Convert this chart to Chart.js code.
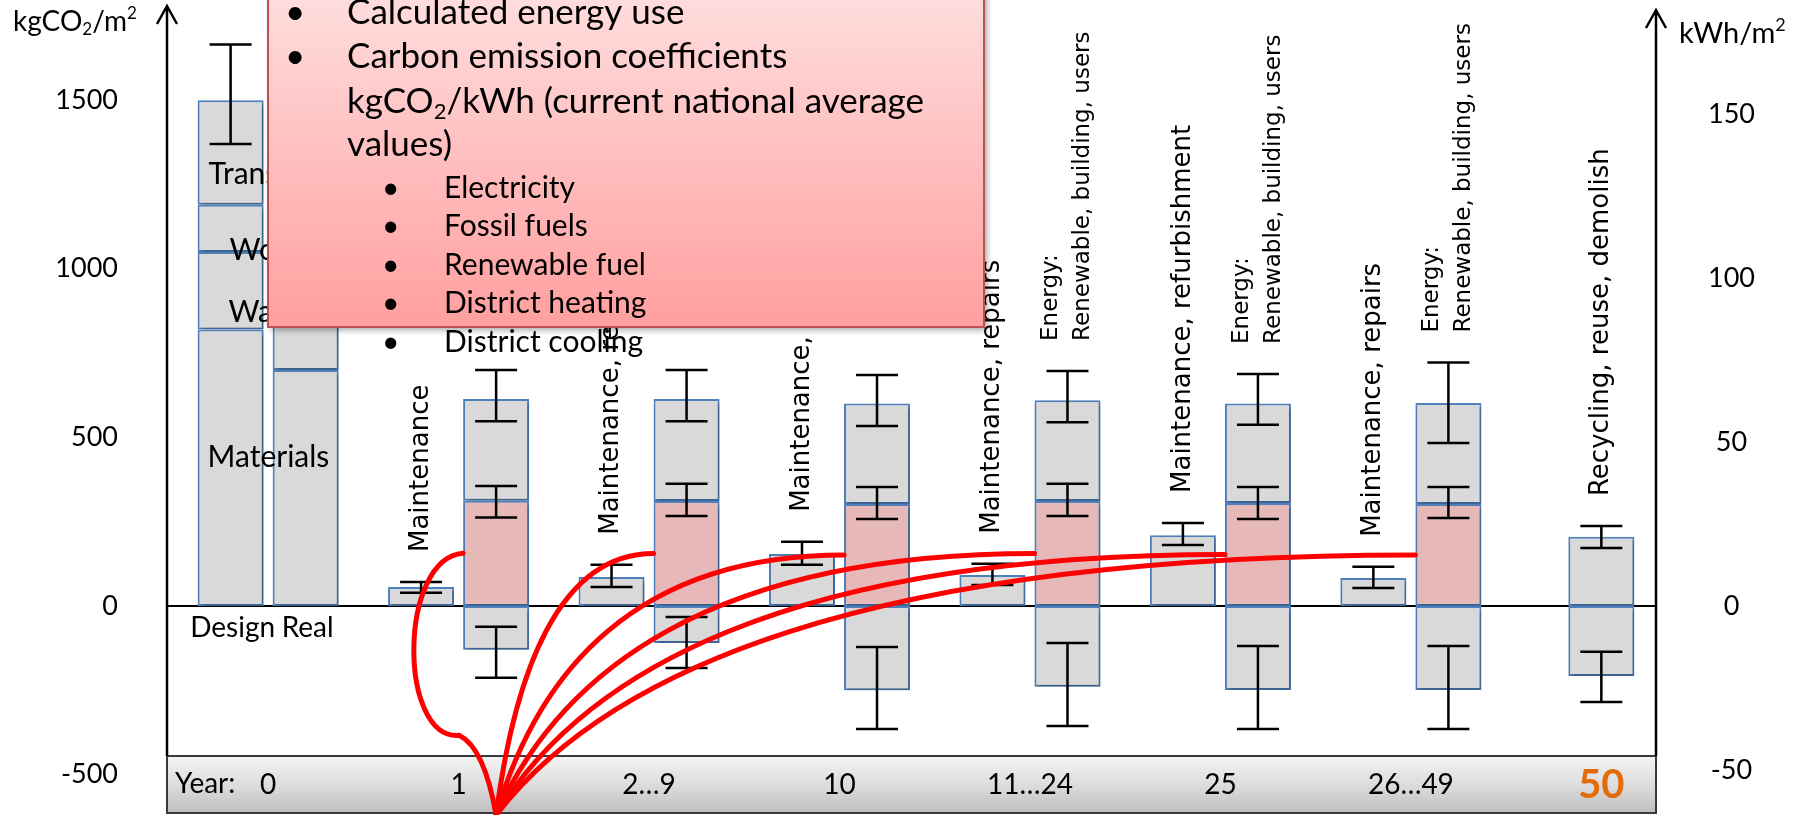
<!DOCTYPE html>
<html lang="en">
<head>
<meta charset="utf-8">
<title>Life cycle carbon</title>
<script src="https://cdn.jsdelivr.net/npm/chart.js@4.4.1/dist/chart.umd.min.js"></script>
<style>
    html, body { margin: 0; padding: 0; background: #ffffff; }
    #holder { position: relative; width: 1803px; height: 815px; }
</style>
</head>
<body>
<div id="holder"><canvas id="life_canvas"></canvas></div>
<script>
// time slots shown in the grey strip at the bottom
var yearLabels = ['0', '1', '2…9', '10', '11…24', '25', '26…49', '50'];

// axis labels
var leftTicks = [-500, 0, 500, 1000, 1500];   // kgCO2/m2
var rightTicks = [-50, 0, 50, 100, 150];      // kWh/m2

// year 0, kgCO2/m2 (null = nothing in that slot)
var designMaterials = [820, null, null, null, null, null, null, null];
var designWaste     = [230, null, null, null, null, null, null, null];
var designWork      = [140, null, null, null, null, null, null, null];
var designTransport = [310, null, null, null, null, null, null, null];
var designRange     = [[1370, 1665], null, null, null, null, null, null, null];

var realMaterials = [700, null, null, null, null, null, null, null];
var realWaste     = [200, null, null, null, null, null, null, null];
var realWork      = [130, null, null, null, null, null, null, null];
var realTransport = [290, null, null, null, null, null, null, null];

// use phase
var maintenance      = [null, 56, 86, 154, 92, 210, 83, null];
var maintenanceRange = [null, [39, 71], [56, 122], [122, 190], [62, 125], [181, 246], [53, 116], null];
var maintenanceNotes = [null, 'Maintenance', 'Maintenance, repairs', 'Maintenance, replacement',
                        'Maintenance, repairs', 'Maintenance, refurbishment', 'Maintenance, repairs', null];

var energyUsed        = [null, 312, 311, 302, 311, 305, 302, null];
var energyUsedRange   = [null, [262, 356], [267, 362], [258, 353], [267, 362], [258, 353], [261, 353], null];
var energyOther       = [null, 302, 303, 298, 299, 295, 300, null];
var energyTopRange    = [null, [548, 700], [548, 700], [534, 685], [545, 697], [537, 688], [483, 722], null];
var energyExport      = [null, -130, -110, -250, -240, -249, -249, null];
var energyExportRange = [null, [-213, -62], [-184, -33], [-365, -122], [-356, -110], [-365, -119], [-365, -119], null];
var energyNote        = ['Energy:', 'Renewable, building, users'];
var energyNotes       = [null, null, null, null, energyNote, energyNote, energyNote, null];

// end of life
var endOfLife         = [null, null, null, null, null, null, null, 205];
var endOfLifeRange    = [null, null, null, null, null, null, null, [172, 237]];
var endOfLifeCredit   = [null, null, null, null, null, null, null, -208];
var endOfLifeCreditRange = [null, null, null, null, null, null, null, [-285, -136]];
var endOfLifeNotes    = [null, null, null, null, null, null, null, 'Recycling, reuse, demolish'];

var cinza = '#d9d9d9';
var azul = '#4f81bd';
var rosa = '#e6b9b8';

function pontos(valores) {
    return valores.map(function (v, i) { return { x: i, y: v }; });
}

function barra(label, valores, stack, cor, extra) {
    var ds = {
        label: label,
        data: pontos(valores),
        stack: stack,
        backgroundColor: cor,
        borderColor: azul,
        borderWidth: 2,
        borderSkipped: false
    };
    for (var k in extra) ds[k] = extra[k];
    return ds;
}

var datasets = [
    barra('Materials', designMaterials, 'left', cinza, { tag: 'Materials', tagDx: 10, tagDy: -10, baseTag: 'Design' }),
    barra('Waste', designWaste, 'left', cinza, { tag: 'Waste', tagDx: 31, tagDy: 22 }),
    barra('Work', designWork, 'left', cinza, { tag: 'Work', tagDx: 32, tagDy: 22 }),
    barra('Transport', designTransport, 'left', cinza, { tag: 'Transport', tagDx: 11, tagDy: 22, ranges: designRange }),
    barra('Maintenance', maintenance, 'left', cinza, { ranges: maintenanceRange, notes: maintenanceNotes }),

    barra('Real materials', realMaterials, 'right', cinza, { baseTag: 'Real' }),
    barra('Real waste', realWaste, 'right', cinza, {}),
    barra('Real work', realWork, 'right', cinza, {}),
    barra('Real transport', realTransport, 'right', cinza, {}),
    barra('Energy used', energyUsed, 'right', rosa, { ranges: energyUsedRange, connector: true }),
    barra('Energy other', energyOther, 'right', cinza, { ranges: energyTopRange, notes: energyNotes, noteSize: 23 }),
    barra('Energy export', energyExport, 'right', cinza, { ranges: energyExportRange }),

    barra('End of life', endOfLife, 'solo', cinza, { grouped: false, ranges: endOfLifeRange, notes: endOfLifeNotes }),
    barra('End of life credit', endOfLifeCredit, 'solo', cinza, { grouped: false, ranges: endOfLifeCreditRange })
];

function textoRico(ctx, partes, x, y, tamanho) {
    partes.forEach(function (p) {
        var s = (p.sub || p.sup) ? Math.round(tamanho * 0.62) : tamanho;
        ctx.font = s + 'px Lato';
        var dy = p.sub ? tamanho * 0.28 : (p.sup ? -tamanho * 0.3 : 0);
        ctx.fillText(p.t, x, y + dy);
        x += ctx.measureText(p.t).width;
    });
}

var desenho = {
    id: 'desenho',
    beforeDatasetsDraw: function (chart) {
        var ctx = chart.ctx;
        var area = chart.chartArea;
        var xs = chart.scales.x;
        var ys = chart.scales.y;
        var faixaTopo = area.bottom - 59;

        // year strip
        ctx.save();
        var g = ctx.createLinearGradient(0, faixaTopo, 0, area.bottom);
        g.addColorStop(0, '#f4f4f4');
        g.addColorStop(0.5, '#dcdcdc');
        g.addColorStop(1, '#bcbcbc');
        ctx.fillStyle = g;
        ctx.fillRect(area.left, faixaTopo, area.right - area.left, 57);
        ctx.strokeStyle = '#3a3a3a';
        ctx.lineWidth = 2;
        ctx.strokeRect(area.left, faixaTopo, area.right - area.left, 57);

        ctx.fillStyle = '#000';
        ctx.textBaseline = 'middle';
        ctx.textAlign = 'left';
        ctx.font = '28px Lato';
        ctx.fillText('Year:', area.left + 8, faixaTopo + 28);
        ctx.textAlign = 'center';
        for (var i = 0; i < yearLabels.length; i++) {
            var px = xs.getPixelForValue(i);
            if (i === yearLabels.length - 1) {
                ctx.font = 'bold 40px Lato';
                ctx.fillStyle = '#e36c09';
            } else {
                ctx.font = '28px Lato';
                ctx.fillStyle = '#000';
            }
            ctx.fillText(yearLabels[i], px, faixaTopo + 29);
        }

        // axes with open arrow heads
        ctx.strokeStyle = '#000';
        ctx.lineWidth = 2.5;
        ctx.beginPath();
        ctx.moveTo(area.left, faixaTopo);
        ctx.lineTo(area.left, 6);
        ctx.moveTo(area.left - 10, 24);
        ctx.lineTo(area.left, 6);
        ctx.lineTo(area.left + 10, 24);
        ctx.moveTo(area.right, faixaTopo);
        ctx.lineTo(area.right, 10);
        ctx.moveTo(area.right - 10, 28);
        ctx.lineTo(area.right, 10);
        ctx.lineTo(area.right + 10, 28);
        ctx.stroke();

        // zero line
        var zero = ys.getPixelForValue(0);
        ctx.lineWidth = 2;
        ctx.beginPath();
        ctx.moveTo(area.left, zero);
        ctx.lineTo(area.right, zero);
        ctx.stroke();

        // axis titles
        ctx.fillStyle = '#000';
        ctx.textAlign = 'left';
        textoRico(ctx, [{ t: 'kgCO' }, { t: '2', sub: true }, { t: '/m' }, { t: '2', sup: true }], 13, 22, 28);
        textoRico(ctx, [{ t: 'kWh/m' }, { t: '2', sup: true }], 1679, 34, 29);
        ctx.restore();

        // soft shadow under the bars
        ctx.save();
        ctx.shadowColor = 'rgba(0,0,0,0.28)';
        ctx.shadowBlur = 4;
        ctx.shadowOffsetX = 2;
        ctx.shadowOffsetY = 3;
    },
    afterDatasetsDraw: function (chart) {
        var ctx = chart.ctx;
        ctx.restore();
        var area = chart.chartArea;
        var ys = chart.scales.y;
        var zero = ys.getPixelForValue(0);

        ctx.save();
        ctx.strokeStyle = '#000';
        ctx.fillStyle = '#000';
        ctx.lineWidth = 2.5;

        chart.data.datasets.forEach(function (ds, di) {
            var meta = chart.getDatasetMeta(di);

            // error bars
            if (ds.ranges) {
                ds.ranges.forEach(function (r, i) {
                    if (!r) return;
                    var bx = meta.data[i].x;
                    var top = ys.getPixelForValue(r[1]);
                    var bot = ys.getPixelForValue(r[0]);
                    ctx.beginPath();
                    ctx.moveTo(bx, top);
                    ctx.lineTo(bx, bot);
                    ctx.moveTo(bx - 21, top);
                    ctx.lineTo(bx + 21, top);
                    ctx.moveTo(bx - 21, bot);
                    ctx.lineTo(bx + 21, bot);
                    ctx.stroke();
                });
            }

            // rotated notes above the error bars
            if (ds.notes) {
                var tam = ds.noteSize || 26;
                ds.notes.forEach(function (n, i) {
                    if (!n) return;
                    var linhas = Array.isArray(n) ? n : [n];
                    var bx = meta.data[i].x;
                    var topo = ys.getPixelForValue(ds.ranges[i][1]) - 30;
                    ctx.save();
                    ctx.translate(bx, topo);
                    ctx.rotate(-Math.PI / 2);
                    ctx.font = tam + 'px "DejaVu Sans"';
                    ctx.textAlign = 'left';
                    ctx.textBaseline = 'middle';
                    linhas.forEach(function (t, k) {
                        ctx.fillText(t, 0, (k - (linhas.length - 1) / 2) * 32);
                    });
                    ctx.restore();
                });
            }

            // names inside the design segments
            if (ds.tag) {
                var el = meta.data[0];
                ctx.font = '30px Lato';
                ctx.textAlign = 'left';
                ctx.textBaseline = 'middle';
                ctx.fillText(ds.tag, el.x - el.width / 2 + ds.tagDx, (el.y + el.base) / 2 + ds.tagDy);
            }
            if (ds.baseTag) {
                var eb = meta.data[0];
                ctx.font = '28px Lato';
                ctx.textAlign = 'center';
                ctx.textBaseline = 'middle';
                ctx.fillText(ds.baseTag, eb.x + 2, zero + 22);
            }
        });

        // red connectors from the energy bars down to year 1
        var idx = chart.data.datasets.findIndex(function (d) { return d.connector; });
        var used = chart.getDatasetMeta(idx).data;
        var ox = used[1].x;
        var oy = area.bottom;
        ctx.strokeStyle = '#ff0000';
        ctx.lineWidth = 5;
        ctx.lineCap = 'round';
        for (var i = 1; i < used.length; i++) {
            if (energyUsed[i] === null) continue;
            var b = used[i];
            var ex = b.x - b.width / 2;
            var ey = (b.y + b.base) / 2;
            ctx.beginPath();
            if (i === 1) {
                var kx = ex - 4, ky = ey + 182;
                ctx.moveTo(ex, ey);
                ctx.bezierCurveTo(ex - 65, ey + 5, ex - 65, ky + 5, kx, ky);
                ctx.quadraticCurveTo(kx + 25, ky + 12, ox, oy);
            } else {
                var dx = ex - ox, dy = oy - ey;
                ctx.moveTo(ox, oy);
                ctx.bezierCurveTo(ox + 0.12 * dx, oy - 0.55 * dy, ex - 0.6 * dx, ey, ex, ey);
            }
            ctx.stroke();
        }
        ctx.restore();

        // call-out box
        ctx.save();
        ctx.shadowColor = 'rgba(0,0,0,0.35)';
        ctx.shadowBlur = 6;
        ctx.shadowOffsetX = 3;
        ctx.shadowOffsetY = 3;
        var gb = ctx.createLinearGradient(0, 0, 0, 327);
        gb.addColorStop(0, '#ffdcdc');
        gb.addColorStop(1, '#ff9f9f');
        ctx.fillStyle = gb;
        ctx.fillRect(268, -10, 716, 337);
        ctx.restore();
        ctx.save();
        ctx.strokeStyle = '#c0504d';
        ctx.lineWidth = 2;
        ctx.strokeRect(268, -10, 716, 337);

        ctx.fillStyle = '#000';
        ctx.textBaseline = 'middle';
        ctx.textAlign = 'left';
        ctx.font = '35px Lato';
        ctx.fillText('•', 285, 13);
        ctx.fillText('Calculated energy use', 347, 13);
        ctx.fillText('•', 285, 57);
        ctx.fillText('Carbon emission coefficients', 347, 57);
        textoRico(ctx, [{ t: 'kgCO' }, { t: '2', sub: true }, { t: '/kWh (current national average' }], 347, 102, 35);
        ctx.font = '35px Lato';
        ctx.fillText('values)', 347, 145);

        var sub = ['Electricity', 'Fossil fuels', 'Renewable fuel', 'District heating', 'District cooling'];
        ctx.font = '30px Lato';
        sub.forEach(function (t, k) {
            var yy = 188 + k * 38.5;
            ctx.fillText('•', 382, yy);
            ctx.fillText(t, 444, yy);
        });
        ctx.restore();
    }
};

Chart.defaults.font.family = 'Lato';
Chart.defaults.color = '#000';

var eixoX = {
    type: 'linear',
    display: false,
    offset: false,
    bounds: 'data',
    min: -0.531,
    max: 7.287,
    afterBuildTicks: function (scale) {
        scale.ticks = yearLabels.map(function (t, i) { return { value: i }; });
    }
};

var config = {
    type: 'bar',
    data: { datasets: datasets },
    options: {
        responsive: true,
        maintainAspectRatio: false,
        animation: false,
        layout: { padding: 0 },
        categoryPercentage: 0.788,
        barPercentage: 0.88,
        maxBarThickness: 66,
        plugins: {
            legend: { display: false },
            tooltip: { enabled: false }
        },
        scales: {
            x: eixoX,
            y: {
                position: 'left',
                stacked: true,
                min: -620,
                max: 1797,
                grid: { display: false },
                border: { display: false },
                ticks: {
                    padding: 41,
                    font: { size: 27, family: 'Lato' },
                    callback: function (v) { return String(v); }
                },
                afterBuildTicks: function (scale) {
                    scale.ticks = leftTicks.map(function (v) { return { value: v }; });
                },
                afterFit: function (scale) {
                    scale.width = 167;
                    scale.paddingTop = 0;
                    scale.paddingBottom = 0;
                }
            },
            y2: {
                position: 'right',
                min: -63.7,
                max: 184.8,
                grid: { display: false },
                border: { display: false },
                ticks: {
                    padding: 44,
                    crossAlign: 'center',
                    font: { size: 27, family: 'Lato' },
                    callback: function (v) { return String(v); }
                },
                afterBuildTicks: function (scale) {
                    scale.ticks = rightTicks.map(function (v) { return { value: v }; });
                },
                afterFit: function (scale) {
                    scale.width = 147;
                    scale.paddingTop = 0;
                    scale.paddingBottom = 0;
                }
            }
        }
    },
    plugins: [desenho]
};

var grafico = new Chart(document.getElementById('life_canvas'), config);
</script>
</body>
</html>
